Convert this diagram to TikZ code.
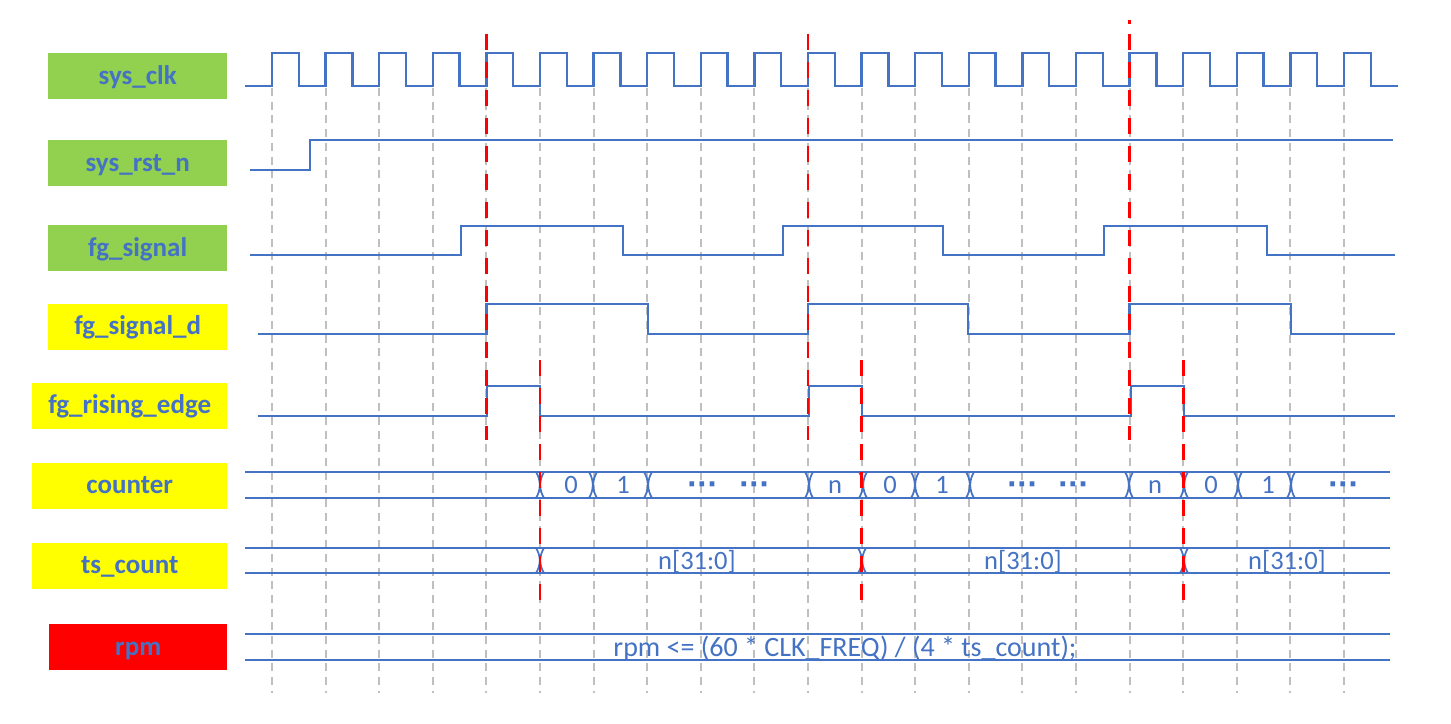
\documentclass[tikz,border=0pt]{standalone}
\usepackage{fontspec}
\setmainfont{Carlito}
\newfontfamily\dotfont{DejaVu Sans}
\definecolor{sigblue}{RGB}{68,114,196}
\definecolor{lblgreen}{RGB}{146,208,80}
\definecolor{lblyellow}{RGB}{255,255,0}
\definecolor{lblred}{RGB}{255,0,0}
\definecolor{gridgrey}{RGB}{191,191,191}
\begin{document}
\begin{tikzpicture}[x=1pt,y=-1pt,
  sig/.style={draw=sigblue, line width=2.5pt, line join=miter},
  bus/.style={draw=sigblue, line width=1.7pt},
  gridline/.style={draw=gridgrey, line width=1.9pt, dash pattern=on 8pt off 5.7pt},
  redline/.style={draw=red, line width=2.8pt, dash pattern=on 16pt off 12pt},
  lbl/.style={font=\bfseries\fontsize{27}{30}\selectfont, text=sigblue, inner sep=0pt,
              minimum height=46pt, text height=16pt, text depth=0pt, anchor=west},
  val/.style={font=\fontsize{26.5}{30}\selectfont, text=sigblue, inner sep=0pt, anchor=base},
  dots/.style={font=\dotfont\bfseries\fontsize{26.5}{30}\selectfont, text=sigblue, inner sep=0pt, anchor=base}
]
\useasboundingbox (0,0) rectangle (1451,723);
\fill[white] (0,0) rectangle (1451,723);

% labels
\node[lbl, fill=lblgreen,  minimum width=179pt] (lclk) at (48,76)    {sys\_clk};
\node[lbl, fill=lblgreen,  minimum width=179pt] (lrst) at (48,163)   {sys\_rst\_n};
\node[lbl, fill=lblgreen,  minimum width=179pt] (lfg)  at (48,248)   {fg\_signal};
\node[lbl, fill=lblyellow, minimum width=179pt] (lfgd) at (48,326.5) {fg\_signal\_d};
\node[lbl, fill=lblyellow, minimum width=195pt] (lre)  at (32,405.5) {fg\_rising\_edge};
\node[lbl, fill=lblyellow, minimum width=195pt] (lcnt) at (32,485.5) {counter};
\node[lbl, fill=lblyellow, minimum width=195pt] (lts)  at (32,565.5) {ts\_count};
\node[lbl, fill=lblred,    minimum width=178pt] (lrpm) at (49,647)   {rpm};

% grey grid
\foreach \k in {0,...,20}
  \draw[gridline] ({272+53.6*\k},88) -- ({272+53.6*\k},693);

% sys_clk
\draw[sig] (245,86) \foreach \k in {0,...,20}{
   -- ({272+53.6*\k},86) -- ({272+53.6*\k},53) -- ({298.8+53.6*\k},53) -- ({298.8+53.6*\k},86) }
   -- (1398,86);

% sys_rst_n
\draw[sig] (250,170) -- (310,170) -- (310,140) -- (1393,140);

% fg_signal
\draw[sig] (250,255) -- (461,255) -- (461,226) -- (623,226) -- (623,255)
  -- (783,255) -- (783,226) -- (943,226) -- (943,255)
  -- (1104,255) -- (1104,226) -- (1267,226) -- (1267,255) -- (1395,255);

% fg_signal_d
\draw[sig] (258,334) -- (486.4,334) -- (486.4,304) -- (648,304) -- (648,334)
  -- (808,334) -- (808,304) -- (968,304) -- (968,334)
  -- (1129.6,334) -- (1129.6,304) -- (1291,304) -- (1291,334) -- (1395,334);

% fg_rising_edge
\draw[sig] (258,416) -- (487,416) -- (487,386) -- (540,386) -- (540,416)
  -- (809,416) -- (809,386) -- (862,386) -- (862,416)
  -- (1131,416) -- (1131,386) -- (1184,386) -- (1184,416) -- (1395,416);

% counter bus
\draw[bus] (245,472) -- (1390,472) (245,498) -- (1390,498);
\foreach \x in {540,593,648,809,863,915,970,1129,1184,1238,1291}{
  \draw[bus] ({\x-4},472) .. controls ({\x+1},480) and ({\x+1},490) .. ({\x-4},498);
  \draw[bus] ({\x+4},472) .. controls ({\x-1},480) and ({\x-1},490) .. ({\x+4},498);
}
\foreach \x/\t [count=\i] in {571/0,623/1,835/n,890/0,942/1,1155/n,1211/0,1268/1}
  \node[val] (cv\i) at (\x,493) {\t};
\foreach \x [count=\i] in {702,754,1022,1073,1343}
  \node[dots] (cd\i) at (\x,493) {···};

% ts_count bus
\draw[bus] (245,548) -- (1390,548) (245,573) -- (1390,573);
\foreach \x in {540,862,1184}{
  \draw[bus] ({\x-4},548) .. controls ({\x+1},556) and ({\x+1},565) .. ({\x-4},573);
  \draw[bus] ({\x+4},548) .. controls ({\x-1},556) and ({\x-1},565) .. ({\x+4},573);
}
\foreach \x [count=\i] in {697,1023,1287}
  \node[val] (tv\i) at (\x,569) {n[31:0]};

% rpm bus
\draw[bus] (245,634) -- (1390,634) (245,660) -- (1390,660);
\node[val, font=\fontsize{28}{30}\selectfont] (rv) at (845,656) {rpm <= (60 * CLK\_FREQ) / (4 * ts\_count);};

% red markers
\foreach \x in {486.4,808,1129.6}
  \draw[redline] (\x,34) -- (\x,440);
\draw[redline] (1129.6,20) -- (1129.6,24);
\foreach \x in {540,861.6,1183.2}
  \draw[redline] (\x,360) -- (\x,605);
\end{tikzpicture}
\end{document}
